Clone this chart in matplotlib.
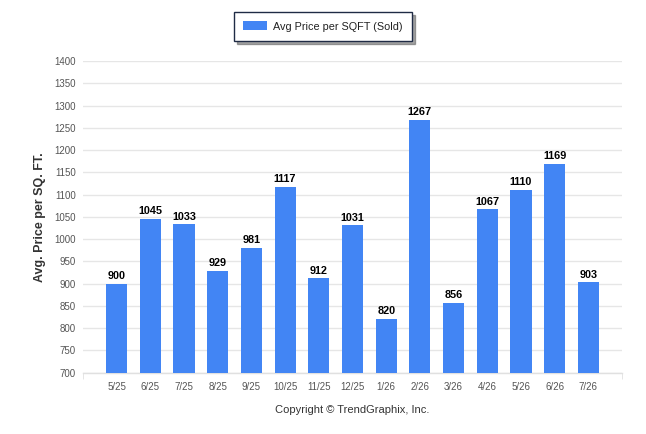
import matplotlib
matplotlib.use("Agg")
import matplotlib.pyplot as plt
import numpy as np

# data
months = ["5/25", "6/25", "7/25", "8/25", "9/25", "10/25", "11/25", "12/25",
          "1/26", "2/26", "3/26", "4/26", "5/26", "6/26", "7/26"]
price_sqft = [900, 1045, 1033, 929, 981, 1117, 912, 1031,
              820, 1267, 856, 1067, 1110, 1169, 903]
yticks = list(range(700, 1401, 50))

plt.rcParams['font.family'] = ['Liberation Sans', 'DejaVu Sans']

bar_color = "#4285f4"

fig = plt.figure(figsize=(6.46, 4.34), dpi=100)
ax = fig.add_axes([83/646, 1 - 372.7/434, (622 - 83)/646, (372.7 - 61)/434])

x = np.arange(len(months))
bars = ax.bar(x, price_sqft, width=0.63, color=bar_color, zorder=3,
              label="Avg Price per SQFT (Sold)")

# values on top of bars
for xi, v in zip(x, price_sqft):
    ax.annotate(str(v), (xi, v), xytext=(0, 2), textcoords="offset points",
                ha="center", va="bottom", fontsize=7.8, fontweight="bold",
                color="black", zorder=4)

ax.set_xlim(-1, len(months))
ax.set_ylim(700, 1400)
ax.set_yticks(yticks)
ax.set_xticks(x)
ax.set_xticklabels(months)
ax.set_xticks([-1, len(months)], minor=True)

ax.tick_params(axis="y", length=0, pad=5, labelsize=7, labelcolor="#555555")
ax.tick_params(axis="x", which="major", length=0, pad=7, labelsize=7,
               labelcolor="#555555")
ax.tick_params(axis="x", which="minor", length=4, color="#e0e0e0")

ax.grid(axis="y", color="#e6e6e6", linewidth=1, zorder=0)
for s in ["top", "right", "left"]:
    ax.spines[s].set_visible(False)
ax.spines["bottom"].set_color("#e0e0e0")
ax.spines["bottom"].set_linewidth(1)

ax.set_ylabel("Avg. Price per SQ. FT.", fontsize=9, fontweight="bold",
              color="#333333", labelpad=6)
ax.set_xlabel("Copyright \u00a9 TrendGraphix, Inc.", fontsize=8,
              color="#333333", labelpad=9)

leg = fig.legend(handles=[bars], loc="center", bbox_to_anchor=(323/646, 1 - 26.5/434),
                 fontsize=7.8, frameon=True, fancybox=False, shadow=True,
                 handlelength=2.2, handleheight=0.9, handletextpad=0.6,
                 borderpad=0.85, borderaxespad=0)
leg.get_frame().set_edgecolor("#1f2b45")
leg.get_frame().set_linewidth(1)
for t in leg.get_texts():
    t.set_color("#222222")

fig.savefig("out.png", dpi=100)
